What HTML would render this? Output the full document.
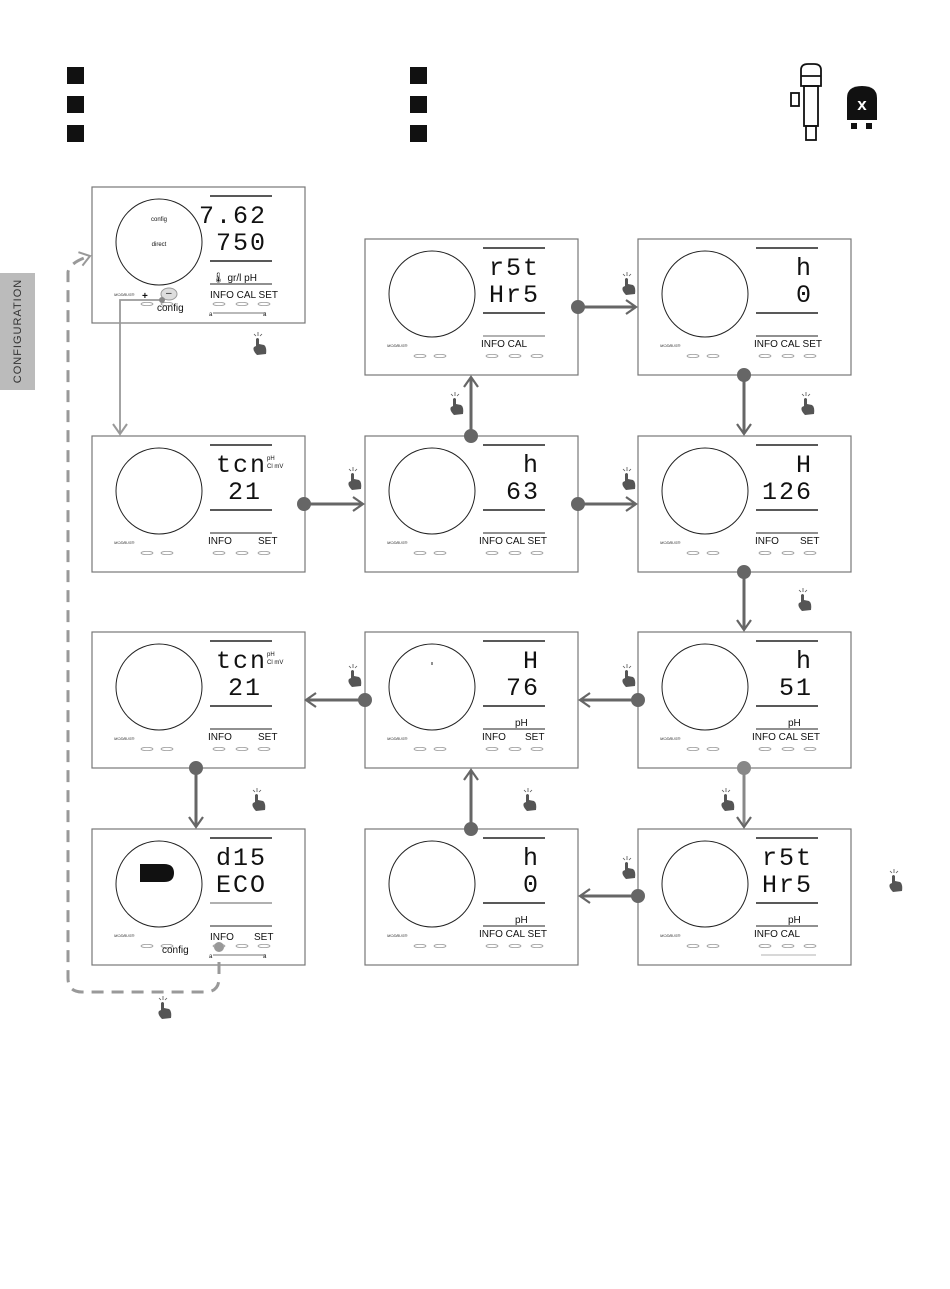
<!DOCTYPE html>
<html><head><meta charset="utf-8"><style>
html,body{margin:0;padding:0;background:#fff}
svg{display:block}
.d{font-family:"Liberation Mono","DejaVu Sans Mono",monospace;font-size:25px;fill:#111;text-anchor:end;letter-spacing:2px}
.l{font-family:"Liberation Sans",sans-serif;font-size:10px;fill:#111}
.m{font-family:"Liberation Sans",sans-serif;font-size:4px;fill:#333;font-style:italic}
.s{font-family:"Liberation Sans",sans-serif;font-size:6px;fill:#111}
</style></head><body>
<svg width="950" height="1289" viewBox="0 0 950 1289" xmlns="http://www.w3.org/2000/svg">
<defs>
<g id="pb">
<rect x="0" y="0" width="213" height="136" fill="#fff" stroke="#777" stroke-width="1.2"/>
<circle cx="67" cy="55" r="43" fill="none" stroke="#222" stroke-width="1"/>
<line x1="118" y1="9" x2="180" y2="9" stroke="#222" stroke-width="1.5"/>
<line x1="118" y1="74" x2="180" y2="74" stroke="#222" stroke-width="1.5"/>
<g fill="none" stroke="#999" stroke-width="0.8">
<ellipse cx="55" cy="117" rx="6" ry="1.6"/><ellipse cx="75" cy="117" rx="6" ry="1.6"/>
<ellipse cx="127" cy="117" rx="6" ry="1.6"/><ellipse cx="150" cy="117" rx="6" ry="1.6"/><ellipse cx="172" cy="117" rx="6" ry="1.6"/>
</g>
</g>
<g id="hand"><path d="M-3,-1 L-3,-8 Q-1.5,-10 0,-8 L0,-3 L5,-2 Q8,0 7,7 L-2,8 Q-7,3 -5,0 Z" fill="#555"/><path d="M-1,-15 L-1,-11 M-5,-13 L-3,-11 M3,-13 L1,-11" stroke="#555" stroke-width="0.8"/></g>
<marker id="ah" markerWidth="16" markerHeight="16" refX="12" refY="8" orient="auto" markerUnits="userSpaceOnUse"><path d="M2,1 L12,8 L2,15" fill="none" stroke="#666" stroke-width="2.2"/></marker>
<marker id="ahl" markerWidth="16" markerHeight="16" refX="12" refY="8" orient="auto" markerUnits="userSpaceOnUse"><path d="M2,1 L12,8 L2,15" fill="none" stroke="#999" stroke-width="2"/></marker>
</defs>

<rect x="0" y="273" width="35" height="117" fill="#bbb"/>
<text transform="translate(21,331) rotate(-90)" text-anchor="middle" font-family="Liberation Sans,sans-serif" font-size="11" letter-spacing="1" fill="#333">CONFIGURATION</text>

<g fill="#111">
<rect x="67" y="67" width="17" height="17"/><rect x="67" y="96" width="17" height="17"/><rect x="67" y="125" width="17" height="17"/>
<rect x="410" y="67" width="17" height="17"/><rect x="410" y="96" width="17" height="17"/><rect x="410" y="125" width="17" height="17"/>
</g>
<g fill="none" stroke="#111" stroke-width="1.8">
<path d="M801,86 L801,70 Q801,64 808,64 L814,64 Q821,64 821,70 L821,86 Z"/>
<line x1="801" y1="76" x2="821" y2="76"/>
<rect x="804" y="86" width="14" height="40"/>
<rect x="791" y="93" width="8" height="13"/>
<rect x="806" y="126" width="10" height="14"/>
</g>
<path d="M847,113 L847,98 Q847,86 862,86 Q877,86 877,98 L877,120 L847,120 Z" fill="#111"/>
<text x="862" y="110" text-anchor="middle" font-family="Liberation Sans,sans-serif" font-weight="bold" font-size="17" fill="#fff">x</text>
<rect x="851" y="123" width="6" height="6" fill="#111"/><rect x="866" y="123" width="6" height="6" fill="#111"/>

<g transform="translate(92,187)">
<use href="#pb"/>
<line x1="118" y1="97" x2="180" y2="97" stroke="#222" stroke-width="1"/>
<text x="67" y="34" class="s" text-anchor="middle">config</text>
<text x="67" y="59" class="s" text-anchor="middle">direct</text>
<text class="d" x="175" y="36" letter-spacing="0">7.62</text><text class="d" x="175" y="63">750</text>
<text x="120" y="94" class="l" font-size="11">🌡 gr/l  pH</text>
<text x="118" y="111" class="l" font-size="8">INFO  CAL   SET</text>
<line x1="121" y1="126" x2="174" y2="126" stroke="#444" stroke-width="0.8"/>
<text x="117" y="129" class="s">a</text><text x="171" y="129" class="s">a</text>
<text x="22" y="109" class="m">MODBUS®</text>
<text x="50" y="112" class="l" font-weight="bold" font-size="11">+</text>
<ellipse cx="77" cy="107" rx="8" ry="6" fill="#ddd" stroke="#999"/>
<text x="74" y="109" class="l" font-size="8">–</text>
<text x="65" y="124" class="l" font-size="9">config</text>
</g>

<g transform="translate(365,239)">
<use href="#pb"/>
<line x1="118" y1="97" x2="180" y2="97" stroke="#999" stroke-width="1.5"/>
<text class="d" x="175" y="36">r5t</text><text class="d" x="175" y="63">Hr5</text>
<text x="116" y="108" class="l">INFO CAL</text>
<text x="22" y="108" class="m">MODBUS®</text>
</g>
<g transform="translate(638,239)">
<use href="#pb"/>
<line x1="118" y1="97" x2="180" y2="97" stroke="#222" stroke-width="1"/>
<text class="d" x="175" y="36">h</text><text class="d" x="175" y="63">0</text>
<text x="116" y="108" class="l">INFO CAL  SET</text>
<text x="22" y="108" class="m">MODBUS®</text>
</g>

<g transform="translate(92,436)">
<use href="#pb"/>
<line x1="118" y1="97" x2="180" y2="97" stroke="#222" stroke-width="1"/>
<text class="d" x="175" y="36">tcn</text><text class="d" x="170" y="63">21</text>
<text x="175" y="24" class="s">pH</text><text x="175" y="32" class="s">Cl mV</text>
<text x="116" y="108" class="l">INFO</text><text x="166" y="108" class="l">SET</text>
<text x="22" y="108" class="m">MODBUS®</text>
</g>
<g transform="translate(365,436)">
<use href="#pb"/>
<line x1="118" y1="97" x2="180" y2="97" stroke="#222" stroke-width="1"/>
<text class="d" x="175" y="36">h</text><text class="d" x="175" y="63">63</text>
<text x="114" y="108" class="l">INFO CAL  SET</text>
<text x="22" y="108" class="m">MODBUS®</text>
</g>
<g transform="translate(638,436)">
<use href="#pb"/>
<line x1="118" y1="97" x2="180" y2="97" stroke="#222" stroke-width="1"/>
<text class="d" x="175" y="36">H</text><text class="d" x="175" y="63">126</text>
<text x="117" y="108" class="l">INFO</text><text x="162" y="108" class="l">SET</text>
<text x="22" y="108" class="m">MODBUS®</text>
</g>

<g transform="translate(92,632)">
<use href="#pb"/>
<line x1="118" y1="97" x2="180" y2="97" stroke="#222" stroke-width="1"/>
<text class="d" x="175" y="36">tcn</text><text class="d" x="170" y="63">21</text>
<text x="175" y="24" class="s">pH</text><text x="175" y="32" class="s">Cl mV</text>
<text x="116" y="108" class="l">INFO</text><text x="166" y="108" class="l">SET</text>
<text x="22" y="108" class="m">MODBUS®</text>
</g>
<g transform="translate(365,632)">
<use href="#pb"/>
<line x1="118" y1="97" x2="180" y2="97" stroke="#222" stroke-width="1"/>
<line x1="67" y1="30" x2="67" y2="33" stroke="#222"/>
<text class="d" x="175" y="36">H</text><text class="d" x="175" y="63">76</text>
<text x="150" y="94" class="l">pH</text>
<text x="117" y="108" class="l">INFO</text><text x="160" y="108" class="l">SET</text>
<text x="22" y="108" class="m">MODBUS®</text>
</g>
<g transform="translate(638,632)">
<use href="#pb"/>
<line x1="118" y1="97" x2="180" y2="97" stroke="#222" stroke-width="1"/>
<text class="d" x="175" y="36">h</text><text class="d" x="175" y="63">51</text>
<text x="150" y="94" class="l">pH</text>
<text x="114" y="108" class="l">INFO CAL  SET</text>
<text x="22" y="108" class="m">MODBUS®</text>
</g>

<g transform="translate(92,829)">
<use href="#pb"/>
<line x1="118" y1="74" x2="180" y2="74" stroke="#bbb" stroke-width="1.5"/>
<line x1="118" y1="97" x2="180" y2="97" stroke="#222" stroke-width="1"/>
<path d="M48,35 L72,35 Q82,35 82,44 Q82,53 72,53 L48,53 Z" fill="#111"/>
<text class="d" x="175" y="36">d15</text><text class="d" x="175" y="63">ECO</text>
<text x="118" y="111" class="l" font-size="8">INFO</text><text x="162" y="111" class="l" font-size="8">SET</text>
<circle cx="127" cy="118" r="5" fill="#999"/>
<line x1="121" y1="126" x2="174" y2="126" stroke="#444" stroke-width="0.8"/>
<text x="117" y="129" class="s">a</text><text x="171" y="129" class="s">a</text>
<text x="70" y="124" class="l" font-size="9">config</text>
<text x="22" y="108" class="m">MODBUS®</text>
</g>
<g transform="translate(365,829)">
<use href="#pb"/>
<line x1="118" y1="97" x2="180" y2="97" stroke="#222" stroke-width="1"/>
<text class="d" x="175" y="36">h</text><text class="d" x="175" y="63">0</text>
<text x="150" y="94" class="l">pH</text>
<text x="114" y="108" class="l">INFO CAL  SET</text>
<text x="22" y="108" class="m">MODBUS®</text>
</g>
<g transform="translate(638,829)">
<use href="#pb"/>
<line x1="118" y1="97" x2="180" y2="97" stroke="#222" stroke-width="1"/>
<text class="d" x="175" y="36">r5t</text><text class="d" x="175" y="63">Hr5</text>
<text x="150" y="94" class="l">pH</text>
<text x="116" y="108" class="l">INFO CAL</text>
<line x1="123" y1="126" x2="178" y2="126" stroke="#666" stroke-width="0.6"/>
<text x="22" y="108" class="m">MODBUS®</text>
</g>

<g stroke="#666" stroke-width="3" fill="#666">
<line x1="304" y1="504" x2="363" y2="504" marker-end="url(#ah)"/><circle cx="304" cy="504" r="5.5"/>
<line x1="578" y1="504" x2="636" y2="504" marker-end="url(#ah)"/><circle cx="578" cy="504" r="5.5"/>
<line x1="471" y1="436" x2="471" y2="377" marker-end="url(#ah)"/><circle cx="471" cy="436" r="5.5"/>
<line x1="578" y1="307" x2="636" y2="307" marker-end="url(#ah)"/><circle cx="578" cy="307" r="5.5"/>
<line x1="744" y1="375" x2="744" y2="434" marker-end="url(#ah)"/><circle cx="744" cy="375" r="5.5"/>
<line x1="744" y1="572" x2="744" y2="630" marker-end="url(#ah)"/><circle cx="744" cy="572" r="5.5"/>
<line x1="638" y1="700" x2="580" y2="700" marker-end="url(#ah)"/><circle cx="638" cy="700" r="5.5"/>
<line x1="365" y1="700" x2="306" y2="700" marker-end="url(#ah)"/><circle cx="365" cy="700" r="5.5"/>
<line x1="196" y1="768" x2="196" y2="827" marker-end="url(#ah)"/><circle cx="196" cy="768" r="5.5"/>
<line x1="744" y1="768" x2="744" y2="827" marker-end="url(#ah)" stroke="#888"/><circle cx="744" cy="768" r="5.5" fill="#888" stroke="#888"/>
<line x1="638" y1="896" x2="580" y2="896" marker-end="url(#ah)"/><circle cx="638" cy="896" r="5.5"/>
<line x1="471" y1="829" x2="471" y2="770" marker-end="url(#ah)"/><circle cx="471" cy="829" r="5.5"/>
</g>
<path d="M161,300 L120,300 L120,434" fill="none" stroke="#999" stroke-width="1.8" marker-end="url(#ahl)"/>
<circle cx="162" cy="300" r="3" fill="#888"/>
<path d="M219,962 L219,978 Q219,992 205,992 L82,992 Q68,992 68,978 L68,272 Q70,262 90,256" fill="none" stroke="#999" stroke-width="3" stroke-dasharray="12,8" marker-end="url(#ahl)"/>

<use href="#hand" x="259" y="347"/>
<use href="#hand" x="456" y="407"/>
<use href="#hand" x="354" y="482"/>
<use href="#hand" x="628" y="287"/>
<use href="#hand" x="807" y="407"/>
<use href="#hand" x="628" y="482"/>
<use href="#hand" x="804" y="603"/>
<use href="#hand" x="354" y="679"/>
<use href="#hand" x="628" y="679"/>
<use href="#hand" x="258" y="803"/>
<use href="#hand" x="529" y="803"/>
<use href="#hand" x="727" y="803"/>
<use href="#hand" x="628" y="871"/>
<use href="#hand" x="895" y="884"/>
<use href="#hand" x="164" y="1011"/>
</svg>
</body></html>
